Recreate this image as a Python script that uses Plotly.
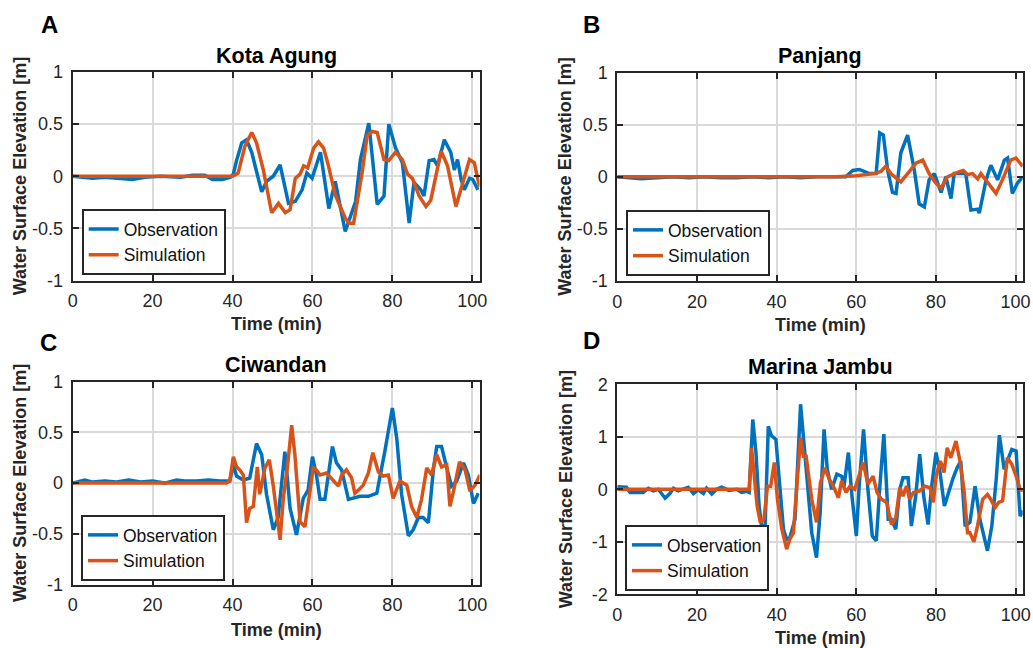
import plotly.graph_objects as go

# ---------------- data ----------------
# Panel A: Kota Agung
a_obs_t = [0, 2, 5, 8, 12, 15, 18, 22, 27, 30, 33, 35, 37.5, 39.5, 40.2, 41, 42.3, 43.5, 44.8, 47.3,
           48.5, 50.2, 51.9, 54, 55.7, 57.4, 58.6, 59.9, 62, 64.1, 65.7, 68.2, 70.8, 72, 74.1, 76.2, 77.9, 79.1, 80.8, 82.5,
           84.2, 85.4, 87.1, 87.9, 89.2, 90.4, 91.3, 93, 94.6, 95.5, 96.3, 97.2, 98, 99.3, 100.1, 101.4]
a_obs_v = [0, -0.01, -0.02, -0.01, -0.02, -0.03, -0.01, 0, -0.01, 0.01, 0.01, -0.03, -0.03, -0.01, 0.02, 0.15, 0.32, 0.35, 0.23, -0.15,
           -0.05, 0.0, 0.11, -0.26, -0.24, -0.13, 0.03, -0.02, 0.23, -0.31, -0.05, -0.53, -0.24, 0.16, 0.51, -0.27, -0.19, 0.5, 0.27, 0.13,
           -0.45, -0.06, -0.13, -0.19, 0.15, 0.16, 0.1, 0.35, 0.23, 0.06, 0.16, -0.03, -0.13, -0.02, -0.03, -0.13]
a_sim_t = [0, 40, 41.4, 43.1, 44.8, 46, 47.7, 49.8, 51.5, 53.2, 54.4, 55.7, 56.9, 57.8, 58.8, 60.3, 61.5, 62.8, 64, 65.7,
           68.2, 69.1, 70.3, 72.4, 73.7, 74.9, 76.2, 77.9, 79.1, 80.8, 82.5, 83.8, 85, 86.7, 88.4, 89.6, 92.2, 93.8, 95.9, 97.6,
           99.3, 100.5, 101.8]
a_sim_v = [0, 0, 0.03, 0.29, 0.42, 0.32, 0.06, -0.35, -0.26, -0.35, -0.32, -0.02, 0.02, 0.1, 0.08, 0.27, 0.33, 0.27, 0.1, -0.18,
           -0.4, -0.45, -0.45, 0.03, 0.39, 0.43, 0.42, 0.16, 0.15, 0.23, 0.16, 0.02, -0.02, -0.19, -0.29, -0.23, 0.24, 0.1, -0.29, -0.06,
           0.16, 0.13, -0.1]

# Panel B: Panjang
b_obs_t = [0, 3, 6, 10, 14, 18, 22, 26, 30, 34, 38, 42, 46, 50, 54, 57.4, 59.1, 60.8, 63.3, 65,
           65.9, 66.8, 67.9, 69.1, 70, 71.2, 72.9, 74.6, 75.8, 77.1, 78.3, 79.6, 81.3, 82.5, 83.8, 84.6, 85.9, 87.5, 88.8, 90.5,
           90.9, 92.6, 93.8, 95.5, 97.2, 98, 99.2, 100.5, 101.8]
b_obs_v = [0, -0.01, -0.02, -0.01, 0, -0.01, 0, -0.01, -0.01, 0, -0.01, 0, -0.01, 0, 0, 0, 0.06, 0.07, 0.03, 0.03,
           0.42, 0.4, 0.06, -0.15, -0.16, 0.23, 0.4, 0.06, -0.26, -0.29, -0.03, 0.03, -0.15, 0, -0.21, 0.03, 0.03, 0.03, -0.32, -0.31,
           -0.35, -0.03, 0.11, -0.03, 0.16, 0.18, -0.16, -0.06, 0]
b_sim_t = [0, 10, 20, 30, 40, 50, 55, 60, 62.4, 64.5, 66.2, 67.4, 68.7, 71.2, 72.9, 75, 76.7, 78.3, 80, 81.3,
           82.9, 84.6, 85.9, 86.9, 87.9, 89.2, 90.5, 91.3, 93, 95.1, 96.7, 98.8, 100.1, 101.8]
b_sim_v = [0, 0, 0, 0, 0, 0, 0, 0.01, 0.02, 0.03, 0.05, 0.1, 0.03, -0.05, 0.03, 0.13, 0.16, 0.03, -0.06, -0.11,
           0, 0.03, 0.05, 0.06, 0.02, 0.03, -0.02, 0.03, -0.06, -0.16, -0.03, 0.16, 0.18, 0.1]

# Panel C: Ciwandan
c_obs_t = [0, 3, 5, 8, 11, 14, 17, 20, 23, 26, 28, 31, 34, 36.8, 39.3, 40.2, 41, 42.7, 44.3, 46,
           47.3, 48.5, 50.2, 51.4, 53.1, 54.4, 56, 57.7, 58.9, 60, 61, 61.9, 63.1, 65, 66, 67.3, 69, 70.2, 71.9, 74,
           76.1, 78.1, 80, 81.1, 82.3, 84, 85.2, 86.5, 87.7, 89, 90.3, 91.1, 92.3, 93.6, 94.8, 96.1, 97.8, 99, 100.3, 101.5]
c_obs_v = [0, 0.03, 0.01, 0.02, 0.01, 0.03, 0.01, 0.02, 0, 0.03, 0.02, 0.02, 0.03, 0.02, 0.02, 0.18, 0.07, 0.03, 0.05, 0.39,
           0.28, -0.11, -0.46, -0.34, 0.31, -0.25, -0.51, -0.15, -0.07, 0.26, 0.08, -0.16, -0.16, 0.36, 0.2, 0.13, -0.16, -0.15, -0.13, -0.13,
           -0.1, 0.31, 0.74, 0.44, -0.11, -0.52, -0.46, -0.34, -0.34, -0.39, 0.15, 0.36, 0.36, 0.15, -0.03, 0.02, 0.2, 0.08, -0.2, -0.1]
c_sim_t = [0, 10, 20, 30, 38.5, 39.3, 40.2, 41, 41.8, 42.7, 43.5, 44.3, 45.2, 46.2, 46.8, 48.1, 49.2, 50.2, 51, 51.9,
           52.7, 53.8, 54.8, 55.6, 56.9, 58.1, 59.4, 60.2, 61, 61.9, 63.5, 65.2, 66.5, 67.3, 68.5, 69.8, 70.6, 71.5, 72.7, 74,
           75.1, 76.5, 77.7, 79, 80.2, 81.9, 83.6, 84.8, 86.1, 87.3, 88.6, 89.8, 91.1, 92.3, 93.6, 94.4, 95.3, 96.8, 98.2, 99.4,
           100.7, 101.9]
c_sim_v = [0, 0, 0, 0, 0, 0.02, 0.26, 0.16, 0.13, 0.08, -0.39, -0.25, -0.23, 0.16, -0.11, 0.15, 0.23, -0.03, -0.31, -0.56,
           -0.15, 0.18, 0.57, 0.28, -0.38, -0.43, -0.07, 0.15, 0.13, 0.08, 0.1, 0.02, -0.03, 0.08, 0.13, 0.05, -0.1, -0.07, -0.02, 0.1,
           0.3, 0.11, 0.07, 0.08, -0.15, 0.02, -0.02, -0.23, -0.34, -0.16, 0.15, 0.08, 0.28, 0.16, 0.18, -0.23, -0.08, 0.21, 0.13, -0.08,
           -0.02, 0.08]

# Panel D: Marina Jambu
d_obs_t = [0, 2.3, 3.2, 6.5, 7.8, 9, 10.3, 12, 13.2, 14.1, 15.3, 16.6, 17.8, 19.1, 20.3, 21.6, 22.4, 23.7, 24.9, 26.2,
           28, 30, 31.2, 32.5, 33.1, 34, 34.8, 35.6, 36.2, 37.1, 37.9, 38.7, 39.8, 41.7, 42.5, 43.3, 44.6, 46, 47.1, 47.9,
           48.8, 50, 50.9, 51.9, 52.7, 53.8, 55.1, 56.3, 56.9, 58, 58.9, 60, 60.7, 61.8, 62.9, 64, 65, 65.9, 66.9, 68,
           68.8, 69.9, 70.9, 71.7, 73, 73.8, 74.9, 75.9, 76.9, 78, 78.9, 80, 81, 82.1, 83.1, 84.3, 85.3, 86.2, 87.3, 88.5,
           89.8, 91, 92.9, 94, 95.1, 95.9, 97.1, 97.9, 99, 100.1, 101.1, 101.9]
d_obs_v = [0.05, 0.04, -0.06, -0.06, 0.02, -0.03, 0, -0.17, -0.08, 0.02, -0.03, 0, 0.04, -0.08, -0.01, -0.08, 0.02, -0.09, 0, 0.04,
           -0.02, 0, -0.06, -0.04, -0.06, 1.33, 0.7, -0.32, -0.7, -0.7, 1.2, 1.02, 0.95, -0.76, -0.95, -0.92, -0.57, 1.62, 0.7, -0.13,
           -0.83, -1.3, -0.46, 1.14, 0.38, 0, 0.29, 0.25, 0.06, 0.7, -0.13, -0.89, 0.06, 1.14, 0, -0.89, -0.98, 0.06, 1.05, -0.57,
           -0.57, -0.76, 0, 0.22, 0.22, -0.7, -0.13, 0.67, -0.13, -0.67, 0.06, 0.7, 0.32, -0.32, -0.06, 0.22, 0.41, 0.54, -0.7, -0.63,
           0.06, -0.57, -1.17, -0.7, 0.19, 1.03, 0.38, 0.54, 0.76, 0.73, -0.51, -0.41]
d_sim_t = [0, 10, 20, 30, 33.1, 33.7, 34.3, 35.1, 35.9, 36.8, 37.7, 38.5, 39.4, 40.2, 41.3, 42.5, 43.3, 44.2, 45, 46,
           46.7, 47.4, 48.8, 50, 51, 52.1, 53.2, 54.2, 55.5, 56.3, 57.4, 58.4, 59.6, 60.7, 61.7, 62.9, 64.2, 65.2, 66.3, 67.6,
           68.8, 69.9, 70.9, 71.7, 72.6, 73.4, 74.3, 75.9, 77.2, 78.5, 79.3, 80.1, 81.1, 82, 82.8, 83.7, 85, 86, 87, 87.9,
           88.5, 89.5, 90.4, 91.7, 92.9, 93.7, 94.8, 95.7, 96.7, 97.9, 99, 100.1, 101.1, 101.9]
d_sim_v = [0, 0, 0, 0, 0, 0.79, 0.25, -0.32, -0.63, -0.57, 0.06, 0.06, 0.51, -0.19, -0.76, -1.14, -0.95, -0.83, 0, 0.98,
           0.63, 0.63, -0.19, -0.63, 0.13, 0.41, 0.19, 0.06, -0.16, 0.16, -0.06, 0.06, 0, 0.25, 0.51, 0.1, 0.25, -0.06, -0.19, -0.25,
           -0.67, -0.54, 0.03, -0.13, 0.06, -0.19, -0.06, -0.03, 0.06, 0.03, -0.25, 0.29, 0.54, 0.32, 0.79, 0.6, 0.92, 0.54, 0, -0.83,
           -0.83, -1.0, -0.7, -0.19, -0.1, -0.19, -0.35, -0.25, -0.22, 0.6, 0.48, 0.25, 0, -0.03]

panel_titles = ["Kota Agung", "Panjang", "Ciwandan", "Marina Jambu"]
panel_letters = ["A", "B", "C", "D"]
series_names = ["Observation", "Simulation"]
x_ticks = [0, 20, 40, 60, 80, 100]
y_ticks_small = [-1, -0.5, 0, 0.5, 1]
y_ticks_small_text = ["-1", "-0.5", "0", "0.5", "1"]
y_ticks_big = [-2, -1, 0, 1, 2]
y_ticks_big_text = ["-2", "-1", "0", "1", "2"]

# ---------------- layout geometry (pixels) ----------------
W, H = 1033, 648
BLUE = "#0072BD"
ORANGE = "#D95319"
FONT = "Liberation Sans, Arial, sans-serif"
INK = "#262626"

# left, right, top, bottom of each plot box in pixels
boxes = [
    (72.7, 479.5, 72.0, 280.5),
    (617.3, 1022.7, 72.5, 281.0),
    (72.7, 479.5, 381.7, 584.5),
    (617.3, 1022.7, 384.3, 594.3),
]
xmax = [101.8, 101.8, 101.8, 101.75]
legend_pos = [(81.7, 275), (626, 276), (81, 581), (625, 591)]   # left, bottom
letter_pos = [(49, 25), (591, 25), (48, 342), (591, 340)]
title_y = [56, 56, 365, 367]
xtitle_y = [324, 325, 630, 638]
ytitle_x = [20, 565, 20, 566]

data = [
    (a_obs_t, a_obs_v, a_sim_t, a_sim_v),
    (b_obs_t, b_obs_v, b_sim_t, b_sim_v),
    (c_obs_t, c_obs_v, c_sim_t, c_sim_v),
    (d_obs_t, d_obs_v, d_sim_t, d_sim_v),
]

fig = go.Figure()
layout = dict(
    width=W, height=H,
    margin=dict(l=0, r=0, t=0, b=0, autoexpand=False),
    paper_bgcolor="white", plot_bgcolor="white",
    font=dict(family=FONT, color=INK, size=18),
    showlegend=True,
)
annotations = []

for i in range(4):
    sfx = "" if i == 0 else str(i + 1)
    L, R, T, B = boxes[i]
    xa = "x" + sfx
    ya = "y" + sfx
    leg = "legend" + sfx
    ot, ov, st, sv = data[i]
    fig.add_trace(go.Scatter(x=ot, y=ov, mode="lines", name=series_names[0],
                             line=dict(color=BLUE, width=3.5), xaxis=xa, yaxis=ya, legend=leg))
    fig.add_trace(go.Scatter(x=st, y=sv, mode="lines", name=series_names[1],
                             line=dict(color=ORANGE, width=3.5), xaxis=xa, yaxis=ya, legend=leg))
    big = (i == 3)
    common = dict(
        showgrid=True, gridcolor="#dadada", gridwidth=1.5,
        showline=True, linecolor=INK, linewidth=2, mirror="ticks",
        ticks="inside", ticklen=6, tickwidth=1.5, tickcolor=INK,
        tickfont=dict(family=FONT, size=18, color=INK),
        zeroline=False, fixedrange=True, automargin=False,
    )
    layout["xaxis" + sfx] = dict(
        domain=[L / W, R / W], anchor=ya, range=[0, xmax[i]],
        tickvals=x_ticks, ticktext=[str(v) for v in x_ticks],
        ticklabelstandoff=3, **common)
    layout["yaxis" + sfx] = dict(
        domain=[1 - B / H, 1 - T / H], anchor=xa,
        range=[-2, 2] if big else [-1, 1],
        tickvals=y_ticks_big if big else y_ticks_small,
        ticktext=y_ticks_big_text if big else y_ticks_small_text,
        ticklabelstandoff=4, **common)
    lx, ly = legend_pos[i]
    layout[leg] = dict(
        x=lx / W, y=1 - ly / H, xanchor="left", yanchor="bottom",
        bgcolor="white", bordercolor=INK, borderwidth=2,
        font=dict(family=FONT, size=17.5, color="#111111"),
        tracegroupgap=0, itemwidth=30,
    )
    # panel letter
    px, py = letter_pos[i]
    annotations.append(dict(text="<b>%s</b>" % panel_letters[i], x=px / W, y=1 - py / H,
                            xref="paper", yref="paper", showarrow=False,
                            font=dict(family=FONT, size=24, color="black"),
                            xanchor="center", yanchor="middle"))
    # panel title
    annotations.append(dict(text="<b>%s</b>" % panel_titles[i], x=(L + R) / 2 / W, y=1 - title_y[i] / H,
                            xref="paper", yref="paper", showarrow=False,
                            font=dict(family=FONT, size=21.5, color="black"),
                            xanchor="center", yanchor="middle"))
    # x axis title
    annotations.append(dict(text="<b>Time (min)</b>", x=(L + R) / 2 / W, y=1 - xtitle_y[i] / H,
                            xref="paper", yref="paper", showarrow=False,
                            font=dict(family=FONT, size=18, color=INK),
                            xanchor="center", yanchor="middle"))
    # y axis title
    annotations.append(dict(text="<b>Water Surface Elevation [m]</b>", x=ytitle_x[i] / W,
                            y=1 - (T + B) / 2 / H, xref="paper", yref="paper", showarrow=False,
                            textangle=-90, font=dict(family=FONT, size=18, color=INK),
                            xanchor="center", yanchor="middle"))

layout["annotations"] = annotations
fig.update_layout(**layout)
# remove the default 8px page margin so the figure fills the window exactly
fig.write_html("out.html", config={"displayModeBar": False},
               post_script="document.body.style.margin='0px';document.body.style.overflow='hidden';")
